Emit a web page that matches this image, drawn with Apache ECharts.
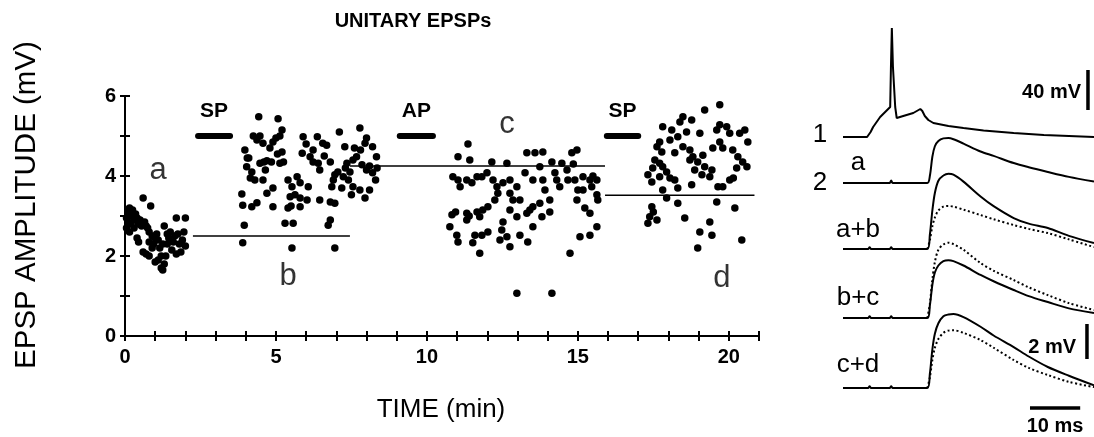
<!DOCTYPE html>
<html><head><meta charset="utf-8">
<script src="https://cdn.jsdelivr.net/npm/echarts@6/dist/echarts.min.js"></script>
<style>html,body{margin:0;padding:0;background:#fff}#c{width:1094px;height:437px}</style>
</head><body><div id="c"></div>
<script>
// ---------- DATA ----------
const xTicks = [0,5,10,15,20];
const yTicks = [0,2,4,6];
const clusterA = [[0.05,2.95],[0.1,3.1],[0.15,3.2],[0.2,3.0],[0.25,3.15],[0.1,2.85],[0.2,2.8],[0.3,2.9],[0.35,3.05],[0.4,2.95],[0.05,2.7],[0.15,2.6],[0.3,2.7],[0.45,2.8],[0.5,2.9],[0.55,2.75],[0.4,2.45],[0.45,2.35],[0.6,3.45],[0.85,3.25],[0.65,2.85],[0.7,2.75],[0.75,2.7],[0.8,2.6],[0.6,2.1],[0.7,2.05],[0.8,2.0],[0.9,2.2],[0.95,2.3],[1.0,2.45],[1.05,2.55],[0.9,2.5],[1.1,2.4],[1.15,2.2],[1.2,2.0],[1.1,1.9],[1.0,1.85],[1.2,1.7],[1.25,1.65],[1.3,1.8],[1.35,2.0],[1.4,2.3],[1.45,2.45],[1.5,2.6],[1.3,2.75],[1.55,2.15],[1.6,2.35],[1.65,2.5],[1.7,2.95],[1.75,2.55],[1.8,2.3],[1.85,2.1],[1.9,2.4],[1.95,2.6],[2.0,2.95],[2.0,2.25],[1.7,2.05],[1.25,2.3],[1.4,2.55],[0.8,2.35]];
const clusterB = [[3.9,2.33],[3.95,2.77],[3.87,3.55],[3.9,3.27],[3.97,4.65],[4.2,3.23],[4.37,3.33],[4.03,4.23],[4.1,4.45],[4.2,4.1],[4.15,3.95],[4.3,3.9],[4.43,5.48],[4.25,5.0],[4.37,4.9],[4.57,4.82],[4.8,4.7],[4.9,4.85],[4.47,5.0],[5.2,5.15],[5.07,5.43],[5.13,5.0],[5.0,4.95],[4.57,3.9],[4.7,3.57],[4.9,3.7],[4.9,3.23],[4.47,4.32],[4.6,4.35],[4.7,4.38],[4.85,4.35],[5.13,4.32],[5.2,4.6],[5.3,2.82],[5.57,2.82],[5.53,2.2],[5.4,3.9],[5.53,3.73],[5.7,3.98],[5.8,3.83],[5.63,3.53],[5.47,3.48],[5.8,3.45],[5.4,3.2],[5.5,3.25],[5.8,3.23],[6.03,3.4],[6.07,3.73],[5.9,4.98],[5.87,4.57],[6.13,4.48],[6.23,4.65],[6.37,4.98],[6.23,4.35],[6.4,4.32],[6.45,4.15],[6.68,4.77],[6.55,4.82],[6.8,4.35],[6.45,3.4],[6.8,3.35],[6.95,3.32],[6.8,2.9],[6.73,2.77],[6.95,2.2],[6.85,3.73],[6.9,3.9],[6.95,4.03],[7.05,4.1],[7.1,5.1],[7.28,4.73],[7.35,4.32],[7.23,3.98],[7.18,3.7],[7.45,4.1],[7.55,4.4],[7.67,4.48],[7.6,4.7],[7.78,5.2],[7.8,4.65],[7.95,4.82],[8.0,4.95],[7.85,4.28],[8.0,4.15],[8.1,4.25],[8.2,4.08],[8.33,4.48],[8.2,4.73],[7.78,3.65],[7.55,3.73],[7.5,3.53],[8.1,3.65],[7.95,3.45],[8.35,4.2],[8.3,3.9],[7.4,3.9],[7.3,4.2],[6.6,4.5],[6.0,4.8],[4.05,4.45],[4.65,4.15],[5.25,4.35],[5.05,4.55]];
const clusterC = [[11.36,4.8],[11.03,4.48],[10.86,3.98],[11.03,3.9],[11.1,3.73],[11.32,3.9],[11.42,4.4],[11.49,3.83],[11.66,3.98],[11.82,3.98],[11.99,4.08],[12.15,4.35],[12.19,3.9],[12.32,3.73],[12.35,3.57],[12.25,3.4],[12.52,3.83],[12.65,4.32],[12.75,3.9],[12.75,3.57],[12.98,3.73],[12.85,3.4],[13.08,3.4],[13.25,4.08],[13.31,4.58],[13.51,3.9],[13.58,4.58],[13.84,4.6],[13.74,4.23],[13.84,3.9],[13.91,3.65],[14.07,3.4],[14.14,4.35],[14.24,4.08],[14.3,3.9],[14.4,3.73],[14.47,4.32],[14.64,4.15],[14.67,3.9],[14.8,4.58],[14.97,4.65],[14.85,4.3],[14.9,3.9],[15.0,3.65],[15.17,3.98],[15.4,3.9],[15.63,3.9],[15.5,4.0],[15.46,3.73],[15.63,3.53],[15.66,3.4],[15.17,3.65],[14.97,3.4],[15.23,3.2],[15.4,3.07],[15.63,2.73],[15.4,2.52],[15.07,2.48],[14.74,2.07],[10.83,3.03],[10.95,3.1],[10.76,2.73],[10.99,2.52],[11.03,2.35],[11.32,3.07],[11.4,3.0],[11.32,2.9],[11.52,2.33],[11.59,2.52],[11.75,2.07],[11.82,2.52],[11.66,3.1],[11.85,3.15],[12.02,3.23],[11.75,2.98],[12.02,2.6],[12.48,2.65],[12.65,2.48],[12.42,2.4],[12.75,2.23],[12.52,2.85],[12.75,3.15],[12.98,2.98],[13.08,2.52],[13.34,2.35],[13.51,2.73],[13.31,3.07],[13.41,3.15],[13.51,3.23],[13.74,3.32],[14.07,3.1],[13.81,2.98],[12.98,1.07],[14.14,1.07]];
const clusterD = [[19.7,5.78],[19.2,5.65],[18.48,5.48],[18.38,5.35],[18.77,5.4],[17.81,5.23],[18.11,5.15],[18.31,4.98],[18.6,5.1],[19.04,5.07],[19.7,5.28],[19.6,5.15],[19.93,5.23],[20.03,5.07],[20.36,5.07],[20.53,5.15],[20.63,4.85],[19.7,4.85],[19.47,4.7],[19.8,4.7],[20.13,4.65],[20.3,4.48],[20.46,4.35],[20.6,4.23],[20.26,4.2],[17.71,4.85],[17.62,4.73],[17.78,4.6],[18.05,4.9],[18.21,4.58],[18.48,4.73],[18.71,4.65],[18.81,4.48],[18.97,4.35],[19.14,4.52],[19.2,4.23],[19.44,4.15],[19.37,3.98],[19.11,4.03],[18.87,4.15],[18.77,3.78],[17.55,4.4],[17.71,4.32],[17.81,4.23],[17.48,4.2],[17.32,4.03],[17.45,3.85],[17.71,3.98],[17.94,4.1],[18.05,3.95],[18.21,3.9],[18.31,3.7],[17.81,3.65],[17.94,3.45],[18.31,3.32],[17.45,3.23],[17.5,3.1],[17.38,2.98],[17.62,2.9],[17.32,2.82],[18.54,2.95],[19.37,2.85],[19.04,2.6],[19.44,2.52],[18.97,2.2],[20.43,2.4],[19.6,3.35],[20.2,3.2],[19.64,3.73],[19.8,3.73],[20.03,3.9],[20.15,3.95],[18.71,4.4]];
// reference mean lines (previous period mean)
const meanStart = [2.25, 7.45, 15.9];
const meanEnd   = [7.45, 15.9, 20.85];
const meanValue = [2.5, 4.25, 3.52];
// stimulation bars
const barLabels = ['SP','AP','SP'];
const barStart  = [2.42, 9.1, 15.96];
const barEnd    = [3.48, 10.2, 17.0];
const barLevel  = 5.0;
// period letters
const periodLetters = ['a','b','c','d'];
const periodT = [1.1, 5.4, 12.65, 19.77];
const periodV = [4.15, 1.5, 5.28, 1.45];

// ---- traces (ms, mV) ----
const tAP = [0,4.8,5.5,6,7.4,8.8,9.4,9.55,9.73,9.95,10.4,10.7,12,14,15.4,15.8,16.3,17,18,21,24,28,34,40,45,50];
const vAP = [0,0,5,10,20,27,30,70,109,70,30,19,21,24,28,26,21,17,14,11,9,6.5,4,2,1,0];
const tEPSP = [0,5.0,5.3,5.6,9.3,9.6,9.9,16.8,17.3,17.8,18.3,19,20,21,22,24,27.4,30,34,37,40.8,45,50];
const epspA   = [0,0,0,0,0,0.15,0,0,0.4,1.5,2.1,2.4,2.55,2.57,2.5,2.25,1.8,1.55,1.14,0.9,0.63,0.35,0.08];
const abSolid = [0,0,0.1,0,0,0.1,0,0,0.8,2.2,3.2,3.9,4.2,4.3,4.25,3.85,3.0,2.45,1.77,1.45,1.2,0.75,0.34];
const abDot   = [0,0,0,0,0,0,0,0,0.5,1.3,1.8,2.2,2.42,2.46,2.42,2.25,1.94,1.7,1.37,1.15,0.91,0.55,0.11];
const bcSolid = [0,0,0.1,0,0,0.1,0,0,0.7,1.9,2.6,3.0,3.25,3.3,3.25,3.0,2.46,2.1,1.6,1.25,0.91,0.55,0.29];
const bcDot   = [0,0,0,0,0,0,0,0,0.8,2.2,3.2,3.9,4.2,4.3,4.22,3.9,3.14,2.7,2.17,1.75,1.31,0.85,0.46];
const cdSolid = [0,0,0.1,0,0,0.1,0,0,0.8,2.2,3.1,3.7,4.1,4.2,4.23,4.05,3.5,3.0,2.34,1.8,1.2,0.7,0.15];
const cdDot   = [0,0,0,0,0,0,0,0,0.6,1.6,2.3,2.8,3.15,3.28,3.3,3.15,2.74,2.3,1.6,1.15,0.74,0.35,0.05];
const traceLabels = ['a','a+b','b+c','c+d'];
const scale40 = {t:48.8, from:27, len:40};
const scale2  = {t:48.6, from:1.66, len:2};
const scale10 = {t:37.25, len:10, v:-1.14};

// ---------- BUILD ----------
const FONT = '"Liberation Sans", Arial, sans-serif';
const zip = (t, v) => t.map((x,i)=>[x, v[i]]);
const fromRise = (t, v) => zip(t, v).filter(p => p[0] >= 16.8);

const chart = echarts.init(document.getElementById('c'), null, {renderer:'canvas'});

const grids = [
  {left:125, top:96, width:634, height:240},          // 0 scatter
  {left:843, top:17, width:251, height:130},          // 1 AP
  {left:843, top:95.5, width:251, height:113.75},     // 2 a
  {left:843, top:161.5, width:251, height:113.75},    // 3 a+b
  {left:843, top:230.5, width:251, height:113.75},    // 4 b+c
  {left:843, top:300.5, width:251, height:113.75}     // 5 c+d
];

const lblStyle = {fontFamily:FONT, color:'#000'};
const xAxes = [
  {gridIndex:0, type:'value', min:0, max:21, interval:1,
   axisLine:{lineStyle:{color:'#000', width:2}},
   axisTick:{show:true, length:5, lineStyle:{color:'#000', width:2}},
   splitLine:{show:false},
   axisLabel:{interval:0, margin:11, fontSize:20, fontWeight:'bold', ...lblStyle,
     formatter:v => xTicks.includes(v) ? String(v) : ''}},
  {gridIndex:0, type:'value', min:0, max:21, interval:1, position:'bottom',
   axisLine:{show:false}, axisLabel:{show:false}, splitLine:{show:false},
   axisTick:{show:true, inside:true, length:5, lineStyle:{color:'#000', width:2}}}
];
const yAxes = [
  {gridIndex:0, type:'value', min:0, max:6, interval:1,
   axisLine:{show:true, lineStyle:{color:'#000', width:2}},
   axisTick:{show:true, length:5, lineStyle:{color:'#000', width:2}},
   splitLine:{show:false},
   axisLabel:{margin:9, fontSize:20, fontWeight:'bold', ...lblStyle,
     formatter:v => yTicks.includes(v) ? String(v) : ''}},
  {gridIndex:0, type:'value', min:0, max:6, interval:1, position:'left',
   axisLine:{show:false}, axisLabel:{show:false}, splitLine:{show:false},
   axisTick:{show:true, inside:true, length:5, lineStyle:{color:'#000', width:2}}}
];
// trace grids g=1..5 use axis index g+1
for (let g=1; g<=5; g++) {
  xAxes.push({gridIndex:g, type:'value', min:0, max:50, show:false});
  yAxes.push(g===1 ? {gridIndex:g, type:'value', min:-10, max:120, show:false}
                   : {gridIndex:g, type:'value', min:-1.5, max:5, show:false});
}
const ax = g => ({xAxisIndex:g+1, yAxisIndex:g+1});

const series = [];
const dotStyle = {color:'#000', opacity:1};
[clusterA, clusterB, clusterC, clusterD].forEach(cl => series.push({
  type:'scatter', xAxisIndex:0, yAxisIndex:0, data:cl, symbolSize:7.5,
  itemStyle:dotStyle, silent:true
}));
meanValue.forEach((v,i) => series.push({
  type:'line', xAxisIndex:0, yAxisIndex:0, symbol:'none',
  data:[[meanStart[i], v],[meanEnd[i], v]],
  lineStyle:{color:'#000', width:1.5}
}));
barLabels.forEach((lab,i) => series.push({
  type:'line', xAxisIndex:0, yAxisIndex:0, symbol:'none',
  data:[[barStart[i], barLevel],[barEnd[i], barLevel]],
  lineStyle:{color:'#000', width:6, cap:'round'},
  markPoint:{symbol:'circle', symbolSize:0,
    data:[{coord:[(barStart[i]+barEnd[i])/2, barLevel], value:lab}],
    label:{show:true, formatter:lab, position:'top', distance:14, fontSize:21, fontWeight:'bold', ...lblStyle}}
}));
series.push({
  type:'scatter', xAxisIndex:0, yAxisIndex:0, symbolSize:0,
  data: periodLetters.map((l,i)=>({value:[periodT[i], periodV[i]], name:l})),
  label:{show:true, position:'inside', formatter:p=>p.name, fontSize:31, ...lblStyle}
});

// traces
const solid = w => ({color:'#000', width:w||2});
series.push({type:'line', ...ax(1), symbol:'none', data:zip(tAP, vAP), lineStyle:solid(2)});
series.push({type:'line', ...ax(2), symbol:'none', data:zip(tEPSP, epspA), smooth:0.3, lineStyle:solid(2)});
[[abSolid, abDot],[bcSolid, bcDot],[cdSolid, cdDot]].forEach((pair, k) => {
  const g = 3 + k;
  series.push({type:'line', ...ax(g), symbol:'none', data:zip(tEPSP, pair[0]), smooth:0.3, lineStyle:solid(2)});
  series.push({type:'line', ...ax(g), symbol:'none', data:fromRise(tEPSP, pair[1]), smooth:0.3,
    lineStyle:{color:'#000', width:2, type:[2,2.5]}});
});
// scale bars
series.push({type:'line', ...ax(1), symbol:'none', clip:false,
  data:[[scale40.t, scale40.from],[scale40.t, scale40.from+scale40.len]], lineStyle:solid(3.5)});
series.push({type:'line', ...ax(5), symbol:'none', clip:false,
  data:[[scale2.t, scale2.from],[scale2.t, scale2.from+scale2.len]], lineStyle:solid(3.5)});
series.push({type:'line', ...ax(5), symbol:'none', clip:false,
  data:[[scale10.t, scale10.v],[scale10.t+scale10.len, scale10.v]], lineStyle:solid(3.5)});

const txt = (x, y, text, size, align, rot, weight) => ({
  type:'text', x, y, rotation:rot||0,
  style:{text, fill:'#000', font:`${weight||'normal'} ${size}px ${FONT}`, align:align||'center', verticalAlign:'middle'}
});
const graphic = [
  txt(413, 21, 'UNITARY EPSPs', 20, 'center', 0, 'bold'),
  txt(441, 410, 'TIME (min)', 26),
  txt(27, 205, 'EPSP AMPLITUDE (mV)', 29.5, 'center', Math.PI/2),
  txt(820, 135, '1', 26),
  txt(820, 183, '2', 26),
  txt(1081, 92, `${scale40.len} mV`, 20, 'right', 0, 'bold'),
  txt(1076, 347, `${scale2.len} mV`, 20, 'right', 0, 'bold'),
  txt(1055, 426, `${scale10.len} ms`, 20, 'center', 0, 'bold')
];
const traceLabelY = [163, 230, 298, 365];
traceLabels.forEach((l,i) => graphic.push(txt(858, traceLabelY[i], l, 26)));

chart.setOption({
  animation:false,
  backgroundColor:'#fff',
  grid:grids, xAxis:xAxes, yAxis:yAxes, series, graphic
});
</script></body></html>
